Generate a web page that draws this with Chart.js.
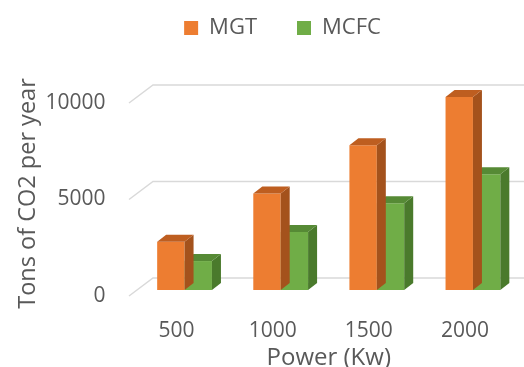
<!DOCTYPE html>
<html>
<head>
<meta charset="utf-8">
<script src="https://cdn.jsdelivr.net/npm/chart.js@4/dist/chart.umd.min.js"></script>
<style>
  html, body { margin: 0; padding: 0; background: #fff; }
  #wrap { width: 524px; height: 367px; position: relative; }
</style>
</head>
<body>
<div id="wrap"><canvas id="chart"></canvas></div>
<script>
const powerLabels = ["500", "1000", "1500", "2000"];
const mgtValues = [2500, 5000, 7500, 10000];
const mcfcValues = [1500, 3000, 4500, 6000];
const yTicks = [0, 5000, 10000];

const textColor = "#595959";
const fontFamily = "'Open Sans', 'Liberation Sans', sans-serif";

// extruded look: side and top faces for each bar, drawn right after its dataset
const barDepth = {
  id: "barDepth",
  afterDatasetDraw(chart, args, opts) {
    const ctx = chart.ctx;
    const ds = chart.data.datasets[args.index];
    const dx = opts.dx, dy = opts.dy;
    ctx.save();
    args.meta.data.forEach((bar) => {
      const p = bar.getProps(["x", "y", "base", "width"], true);
      const l = p.x - p.width / 2, r = p.x + p.width / 2;
      ctx.fillStyle = ds.sideColor;
      ctx.beginPath();
      ctx.moveTo(r, p.y);
      ctx.lineTo(r + dx, p.y + dy);
      ctx.lineTo(r + dx, p.base + dy);
      ctx.lineTo(r, p.base);
      ctx.closePath();
      ctx.fill();
      ctx.fillStyle = ds.topColor;
      ctx.beginPath();
      ctx.moveTo(l, p.y);
      ctx.lineTo(l + dx, p.y + dy);
      ctx.lineTo(r + dx, p.y + dy);
      ctx.lineTo(r, p.y);
      ctx.closePath();
      ctx.fill();
    });
    ctx.restore();
  },
};

// floor/back-wall gridlines with the short diagonal toward the axis
const wallGrid = {
  id: "wallGrid",
  beforeDatasetsDraw(chart, args, opts) {
    const ctx = chart.ctx;
    const y = chart.scales.y;
    const left = chart.chartArea.left;
    ctx.save();
    ctx.strokeStyle = opts.color;
    ctx.lineWidth = 1.5;
    y.ticks.forEach((t) => {
      const py = y.getPixelForValue(t.value);
      ctx.beginPath();
      ctx.moveTo(left + opts.frontX, py + opts.frontY);
      ctx.lineTo(left + opts.backX, py + opts.backY);
      ctx.lineTo(chart.width, py + opts.backY);
      ctx.stroke();
    });
    ctx.restore();
  },
};

// extra room under the legend, and nudge it sideways over the plot
const legendSpacer = {
  id: "legendSpacer",
  beforeInit(chart, args, opts) {
    const fit = chart.legend.fit;
    chart.legend.fit = function () {
      fit.call(this);
      this.height += opts.extra;
    };
  },
  afterLayout(chart, args, opts) {
    chart.legend.left += opts.shiftX;
    chart.legend.right += opts.shiftX;
  },
};

new Chart(document.getElementById("chart"), {
  type: "bar",
  data: {
    labels: powerLabels,
    datasets: [
      {
        label: "MGT",
        data: mgtValues,
        backgroundColor: "#ED7D31",
        sideColor: "#A4521C",
        topColor: "#BE5E20",
      },
      {
        label: "MCFC",
        data: mcfcValues,
        backgroundColor: "#70AD47",
        sideColor: "#4A7A2C",
        topColor: "#568A35",
      },
    ],
  },
  plugins: [barDepth, wallGrid, legendSpacer],
  options: {
    responsive: true,
    maintainAspectRatio: false,
    animation: false,
    layout: { padding: { top: -23, right: 3, left: 0, bottom: 0 } },
    datasets: {
      bar: { categoryPercentage: 0.57, barPercentage: 1.0, clip: false },
    },
    plugins: {
      tooltip: { enabled: false },
      legend: {
        position: "top",
        labels: {
          color: textColor,
          font: { family: fontFamily, size: 22 },
          boxWidth: 14,
          boxHeight: 14,
          padding: 40,
        },
      },
      legendSpacer: { extra: 48, shiftX: 22 },
      wallGrid: { color: "#D9D9D9", frontX: -7.5, frontY: 6, backX: 16.5, backY: -12 },
      barDepth: { dx: 9, dy: -7 },
    },
    scales: {
      x: {
        grid: { display: false },
        border: { display: false },
        ticks: {
          color: textColor,
          font: { family: fontFamily, size: 21 },
          padding: 20,
          labelOffset: -8,
        },
        title: {
          display: true,
          text: "Power (Kw)",
          color: textColor,
          font: { family: fontFamily, size: 24, lineHeight: 1.0 },
          padding: { top: 0, bottom: -3 },
        },
        afterFit(scale) {
          scale.height = 77;
        },
      },
      y: {
        min: 0,
        max: 10000,
        grid: { display: false, drawTicks: false },
        border: { display: false },
        afterBuildTicks(scale) {
          scale.ticks = yTicks.map((v) => ({ value: v }));
        },
        ticks: {
          color: textColor,
          font: { family: fontFamily, size: 21 },
          padding: 31,
          labelOffset: 6,
          callback: (v) => String(v),
        },
        title: {
          display: true,
          text: "Tons of CO2 per year",
          color: textColor,
          font: { family: fontFamily, size: 23.5 },
          padding: { top: 14, bottom: 0 },
        },
        afterFit(scale) {
          scale.width = 136.5;
        },
      },
    },
  },
});
</script>
</body>
</html>
